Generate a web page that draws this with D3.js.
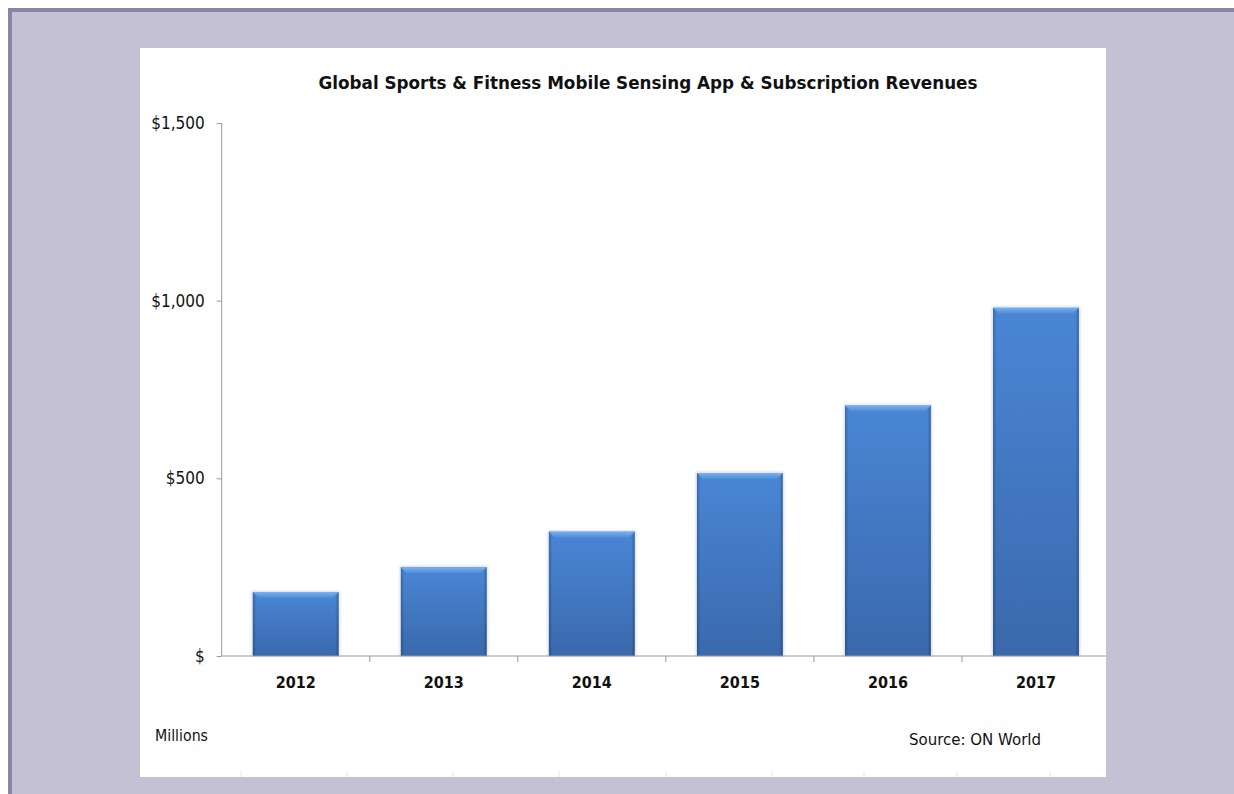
<!DOCTYPE html>
<html>
<head>
<meta charset="utf-8">
<script src="https://cdn.jsdelivr.net/npm/d3@7"></script>
<style>
  body { margin: 0; background: #fff; }
  text { font-family: "DejaVu Sans Condensed", "DejaVu Sans", sans-serif; fill: #111; }
</style>
</head>
<body>
<svg id="chart" width="1234" height="794"></svg>
<script>
// chart values
var years = ["2012", "2013", "2014", "2015", "2016", "2017"];
var revenues = [180, 250, 350, 515, 705, 980];
var yTicks = [0, 500, 1000, 1500];
var chartTitle = "Global Sports & Fitness Mobile Sensing App & Subscription Revenues";

var svg = d3.select("#chart"),
	width = 1234,
	height = 794,
	panel = { x: 140, y: 48, w: 966, h: 729 },
	plot = { left: 221.7, right: 1110, top: 123, bottom: 656 },
	font = "'DejaVu Sans Condensed', 'DejaVu Sans', sans-serif";

// --- BACKGROUND --- //
svg.append("rect").attr("x", 8).attr("y", 8).attr("width", width - 8).attr("height", height - 8)
	.attr("fill", "#c4c1d5");
svg.append("rect").attr("x", 8).attr("y", 8).attr("width", width - 8).attr("height", 4).attr("fill", "#8a84a8");
svg.append("rect").attr("x", 8).attr("y", 8).attr("width", 4).attr("height", height - 8).attr("fill", "#8a84a8");
svg.append("rect").attr("x", panel.x).attr("y", panel.y).attr("width", panel.w).attr("height", panel.h)
	.attr("fill", "#fff");

// faint leftover gridline stubs at the bottom of the panel
[241, 347, 453, 559, 666, 772, 864, 957, 1050].forEach(function(x) {
	svg.append("line").attr("x1", x).attr("x2", x).attr("y1", 771).attr("y2", 777)
		.attr("stroke", "#e4e4e4").attr("stroke-width", 1);
});

// --- SCALES --- //
var x = d3.scaleBand().domain(years).range([plot.left, plot.right])
	.paddingInner(0.42).paddingOuter(0.21);
var y = d3.scaleLinear().domain([0, 1500]).range([plot.bottom, plot.top]);

// --- GRADIENTS --- //
var defs = svg.append("defs");
var body = defs.append("linearGradient").attr("id", "barBody").attr("x1", 0).attr("y1", 0).attr("x2", 0).attr("y2", 1);
body.append("stop").attr("offset", "0%").attr("stop-color", "#4a86d6");
body.append("stop").attr("offset", "100%").attr("stop-color", "#3a69ac");
var side = defs.append("linearGradient").attr("id", "barSide").attr("x1", 0).attr("y1", 0).attr("x2", 1).attr("y2", 0);
side.append("stop").attr("offset", "0%").attr("stop-color", "#000").attr("stop-opacity", 0.22);
side.append("stop").attr("offset", "4%").attr("stop-color", "#000").attr("stop-opacity", 0);
side.append("stop").attr("offset", "96%").attr("stop-color", "#000").attr("stop-opacity", 0);
side.append("stop").attr("offset", "100%").attr("stop-color", "#000").attr("stop-opacity", 0.25);
var bevel = defs.append("linearGradient").attr("id", "bevel").attr("x1", 0).attr("y1", 0).attr("x2", 0).attr("y2", 1);
bevel.append("stop").attr("offset", "0%").attr("stop-color", "#7ab2f0");
bevel.append("stop").attr("offset", "100%").attr("stop-color", "#4f8ad6");
var shadow = defs.append("filter").attr("id", "soft").attr("x", "-10%").attr("y", "-10%").attr("width", "120%").attr("height", "120%");
shadow.append("feGaussianBlur").attr("stdDeviation", 1.5);

// --- BARS --- //
var bars = svg.selectAll(".bar").data(revenues).enter().append("g").attr("class", "bar");

bars.append("rect")
	.attr("x", function(d, i) { return x(years[i]) - 1; })
	.attr("y", function(d) { return y(d) - 1; })
	.attr("width", x.bandwidth() + 2)
	.attr("height", function(d) { return y(0) - y(d) + 1; })
	.attr("fill", "#9bb6d8").attr("opacity", 0.5).attr("filter", "url(#soft)");

bars.append("rect")
	.attr("x", function(d, i) { return x(years[i]); })
	.attr("y", function(d) { return y(d); })
	.attr("width", x.bandwidth())
	.attr("height", function(d) { return y(0) - y(d); })
	.attr("fill", "url(#barBody)");

bars.append("rect")
	.attr("x", function(d, i) { return x(years[i]); })
	.attr("y", function(d) { return y(d); })
	.attr("width", x.bandwidth())
	.attr("height", function(d) { return y(0) - y(d); })
	.attr("fill", "url(#barSide)");

// bevelled top edge
bars.append("path")
	.attr("d", function(d, i) {
		var x0 = x(years[i]), x1 = x0 + x.bandwidth(), t = y(d), b = 6;
		return "M" + x0 + "," + t + "L" + x1 + "," + t + "L" + (x1 - b) + "," + (t + b) +
			"L" + (x0 + b) + "," + (t + b) + "Z";
	})
	.attr("fill", "url(#bevel)");

// --- AXES --- //
var yAxis = svg.append("g").attr("transform", "translate(" + plot.left + ",0)")
	.call(d3.axisLeft(y).tickValues(yTicks).tickSize(5).tickPadding(12)
		.tickFormat(function(d) { return d === 0 ? "$" : "$" + d3.format(",")(d); }));
yAxis.select(".domain").attr("stroke", "#9a9a9a").attr("d", "M0," + plot.top + "V" + plot.bottom);
yAxis.selectAll(".tick line").attr("stroke", "#9a9a9a");
yAxis.selectAll(".tick text").attr("font-size", 17).attr("fill", "#111").style("font-family", font);

var xAxis = svg.append("g").attr("transform", "translate(0," + plot.bottom + ")")
	.call(d3.axisBottom(x).tickSize(0).tickPadding(21));
xAxis.select(".domain").attr("stroke", "#9a9a9a").attr("d", "M" + plot.left + ",0H" + (panel.x + panel.w));
xAxis.selectAll(".tick text").attr("font-size", 16).attr("font-weight", "bold").attr("fill", "#111")
	.style("font-family", font);

// category dividers below the axis
xAxis.selectAll(".divider").data(years.slice(1)).enter().append("line")
	.attr("class", "divider")
	.attr("x1", function(d) { return x(d) - x.step() * x.paddingInner() / 2; })
	.attr("x2", function(d) { return x(d) - x.step() * x.paddingInner() / 2; })
	.attr("y1", 0).attr("y2", 6)
	.attr("stroke", "#9a9a9a");

// --- TEXT --- //
svg.append("text").attr("x", 648).attr("y", 89)
	.attr("text-anchor", "middle").attr("font-size", 18).attr("font-weight", "bold")
	.attr("textLength", 659).attr("lengthAdjust", "spacingAndGlyphs")
	.text(chartTitle);

svg.append("text").attr("x", 155).attr("y", 741).attr("font-size", 15)
	.attr("textLength", 53).attr("lengthAdjust", "spacingAndGlyphs").text("Millions");
svg.append("text").attr("x", 909).attr("y", 745).attr("font-size", 16)
	.attr("textLength", 132).attr("lengthAdjust", "spacingAndGlyphs").text("Source: ON World");
</script>
</body>
</html>
